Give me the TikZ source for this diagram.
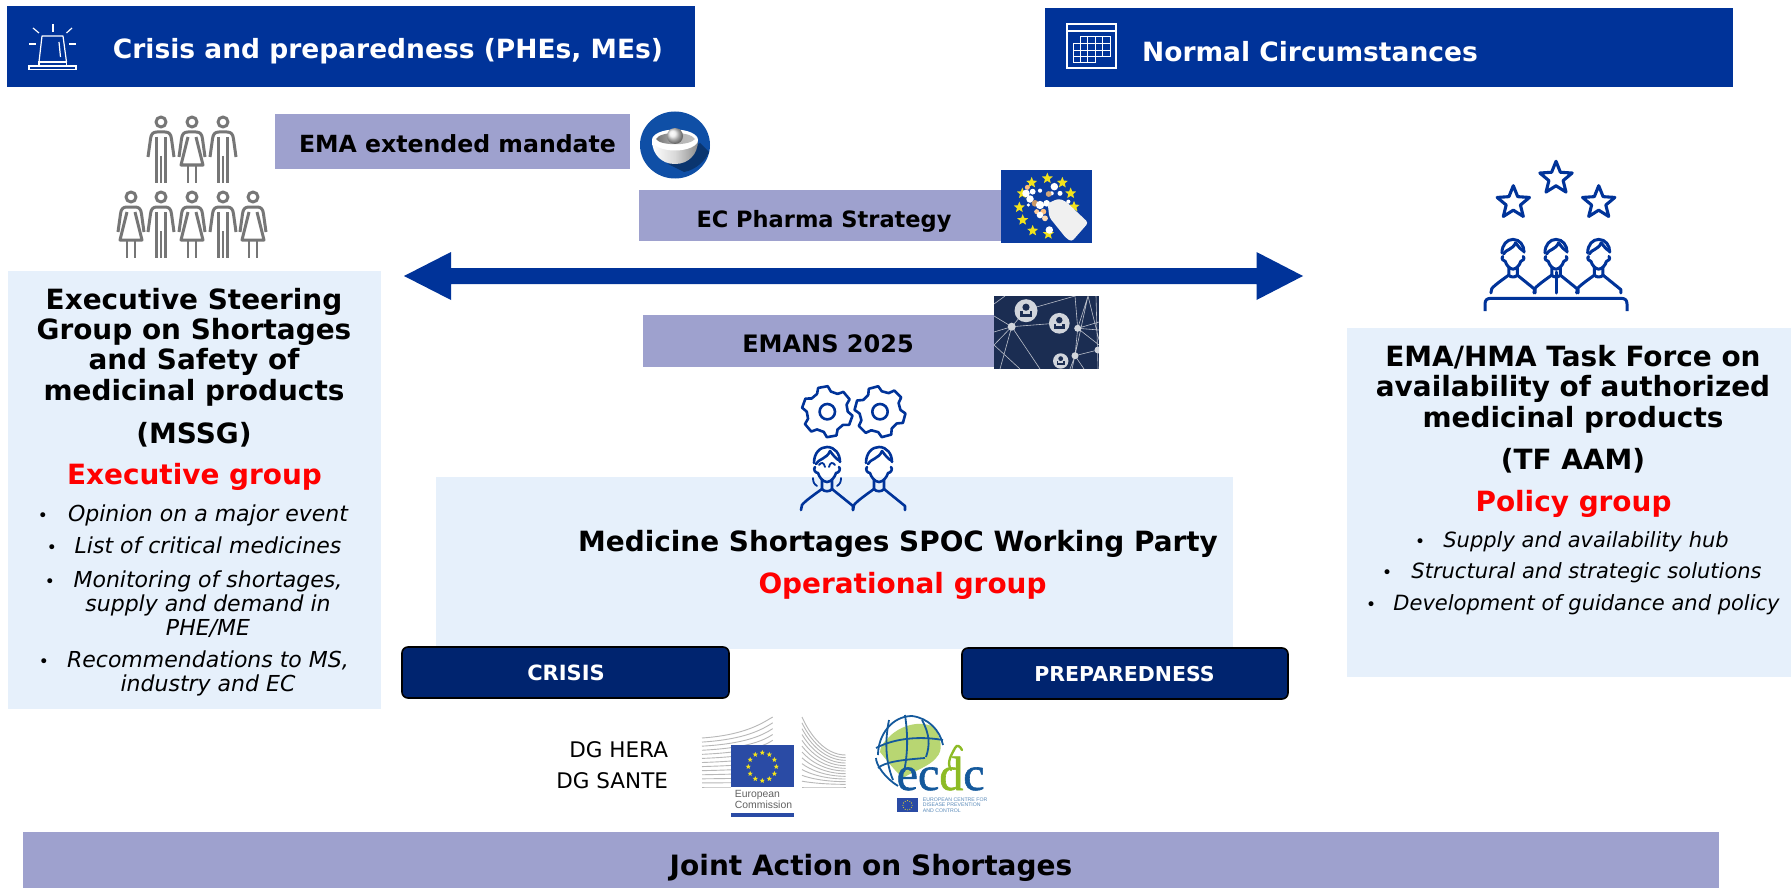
\documentclass[tikz,border=0pt]{standalone}
\usepackage{fontspec}
\setmainfont{DejaVu Sans}
\newfontfamily\serifecdc[FakeBold=1.2]{Liberation Serif}
\newfontfamily\libsans{Liberation Sans}
\definecolor{eublue}{HTML}{003399}
\definecolor{lav}{HTML}{9EA1CE}
\definecolor{pale}{HTML}{E6F0FB}
\definecolor{navy}{HTML}{00246F}
\definecolor{grayicon}{HTML}{767676}
\definecolor{logoblue}{HTML}{0F4FA6}
\definecolor{photoblue}{HTML}{0B3CA0}
\definecolor{nightblue}{HTML}{1B2D52}
\definecolor{starY}{HTML}{F2E21C}
\definecolor{ecblue}{HTML}{2A4BA5}
\definecolor{ecdcblue}{HTML}{14599C}
\definecolor{ecdcgreen}{HTML}{8DBB25}
\definecolor{ecdcleaf}{HTML}{B8D672}
\definecolor{redtxt}{HTML}{FF0000}
\tikzset{
  x=1pt,y=-1pt,
  tb/.style={anchor=base,inner sep=0pt,outer sep=0pt,align=center},
  title/.style={tb,font=\fontsize{27.9}{30.2}\selectfont\bfseries},
  redg/.style={tb,text=redtxt,font=\fontsize{27.9}{30}\selectfont\bfseries},
  itl/.style={tb,font=\fontsize{22}{24}\selectfont\itshape},
  itr/.style={tb,font=\fontsize{21}{24}\selectfont\itshape},
  dot/.style={tb,font=\fontsize{17}{18}\selectfont},
  head/.style={tb,text=white,font=\fontsize{26.5}{30}\selectfont\bfseries},
  lavt/.style={tb,font=\fontsize{#1}{26}\selectfont\bfseries},
  btnt/.style={tb,text=white,font=\fontsize{#1}{22}\selectfont\bfseries},
  gicon/.style={draw=grayicon,line width=2.6pt,line join=round,fill=none},
  bicon/.style={draw=eublue,line width=2.6pt,line join=round,line cap=round,fill=none},
  wicon/.style={draw=white,line width=1.2pt,fill=none},
  pics/gman/.style={code={
    \draw[gicon,line width=3pt] (0,0) circle [radius=5];
    \draw[gicon,line width=3pt] (-13,35) -- (-10.5,17) .. controls (-10,12) and (-8,10) .. (-4,10) -- (4,10) .. controls (8,10) and (10,12) .. (10.5,17) -- (13,35);
    \draw[gicon] (-4.6,15) -- (-4.6,61);
    \draw[gicon] (4.6,15) -- (4.6,61);
    \draw[gicon,line width=2pt] (0,34) -- (0,61);
  }},
  pics/gwoman/.style={code={
    \draw[gicon,line width=3pt] (0,0) circle [radius=5];
    \draw[gicon,line width=3pt] (-13,35) -- (-10.5,17) .. controls (-10,12) and (-8,10) .. (-4,10) -- (4,10) .. controls (8,10) and (10,12) .. (10.5,17) -- (13,35);
    \draw[gicon,line width=3pt] (-4,15) -- (-11,43) -- (11,43) -- (4,15);
    \draw[gicon] (-4,43) -- (-4,61);
    \draw[gicon] (4,43) -- (4,61);
  }},
  pics/worker/.style={code={
    \draw[bicon] (-13,0) .. controls (-13,-10) and (-7,-16) .. (0,-16) .. controls (8,-16) and (13,-9) .. (13,-1);
    \draw[bicon] (-11,1) .. controls (-9,-4) and (0,-4) .. (3,-12);
    \draw[bicon] (3,-12) .. controls (6,-8) and (9,-4) .. (13,-2);
    \draw[bicon] (-12,4) .. controls (-14,6) and (-12,10) .. (-9,10) .. controls (-8,14) and (-4,19) .. (0,19) .. controls (4,19) and (8,14) .. (9,10) .. controls (12,10) and (14,6) .. (12,4);
    \draw[bicon] (-5,17) -- (-5,26) .. controls (-3,29) and (3,29) .. (5,26) -- (5,17);
    \draw[bicon] (-26,47) -- (-25,42) .. controls (-22,38) and (-12,31) .. (-5,26);
    \draw[bicon] (26,47) -- (26,43) -- (5,26);
  }},
}
\newcommand\starP[4]{\path[shift={({#1},{#2})},#4] (-90:#3) -- (-54:{#3*0.44}) -- (-18:#3) -- (18:{#3*0.44}) -- (54:#3) -- (90:{#3*0.44}) -- (126:#3) -- (162:{#3*0.44}) -- (198:#3) -- (234:{#3*0.44}) -- cycle;}
\newcommand\gearP[3]{\begin{scope}[shift={(#1,#2)}]
  \foreach \a in {0,60,...,300}{
    \draw[bicon] ({\a+#3-20}:20.5) -- ({\a+#3-11}:25.5) -- ({\a+#3+11}:25.5) -- ({\a+#3+20}:20.5) -- ({\a+#3+40}:20.5);
  }
  \draw[bicon] (0,0) circle [radius=7.7];
\end{scope}}
\newcommand\pill[4]{\fill[#4] ({990+#1/3},{160+#2/3}) circle [radius={#3*1.25/3}];}
\newcommand\netp[3]{\begin{scope}[shift={(#1,#2)},scale=#3]
  \fill[white!80!nightblue] (0,0) circle [radius=11.5];
  \fill[nightblue] (0,-3.5) circle [radius=3.6];
  \fill[nightblue] (-6,0.5) rectangle (6,6.5);
  \fill[white!80!nightblue] (-3.5,0.5) rectangle (3.5,3.2);
\end{scope}}
\begin{document}
\begin{tikzpicture}
\useasboundingbox (0,0) rectangle (1791,888);
\fill[white] (0,0) rectangle (1791,888);

% ---- headers
\fill[eublue] (7,6) rectangle (695,87);
\fill[eublue] (1045,8) rectangle (1733,87);
\node[head] (hcrisis) at (388,59) {Crisis and preparedness (PHEs, MEs)};
\node[head] (hnormal) at (1310,62) {Normal Circumstances};
% siren
\draw[wicon] (29,66) rectangle (76,69.5);
\draw[wicon] (39,62) rectangle (66.5,66);
\draw[wicon,line join=round] (39,62) -- (42,36) -- (63,36) -- (66.5,62);
\draw[wicon] (59,42) -- (60.5,57);
\draw[wicon] (53,24) -- (53,32);
\draw[wicon] (33,28) -- (39,33);
\draw[wicon] (72,28) -- (66.5,33);
\draw[wicon] (29,44) -- (36,44);
\draw[wicon] (69,44) -- (76,44);
% calendar
\draw[wicon] (1067,24) rectangle (1116,68);
\draw[wicon] (1067,31) -- (1116,31);
\draw[wicon,line width=.9pt] (1080,36.7) -- (1110,36.7) -- (1110,56) -- (1095,56) -- (1095,62) -- (1073.3,62) -- (1073.3,43.3) -- (1080,43.3) -- cycle;
\foreach \xx in {1087.3,1095,1102.3}{\draw[wicon,line width=.9pt] (\xx,36.7) -- (\xx,56);}
\foreach \xx in {1080,1087.3}{\draw[wicon,line width=.9pt] (\xx,43.3) -- (\xx,62);}
\draw[wicon,line width=.9pt] (1073.3,50) -- (1110,50);
\draw[wicon,line width=.9pt] (1073.3,43.3) -- (1110,43.3);
\draw[wicon,line width=.9pt] (1073.3,56) -- (1095,56);

% ---- grey people
\pic at (161,122) {gman};
\pic at (192,122) {gwoman};
\pic at (223,122) {gman};
\pic at (131,197) {gwoman};
\pic at (161,197) {gman};
\pic at (192,197) {gwoman};
\pic at (223,197) {gman};
\pic at (253,197) {gwoman};

% ---- lavender boxes
\fill[lav] (275,114) rectangle (630,169);
\fill[lav] (639,190) rectangle (1001,241);
\fill[lav] (643,315) rectangle (994,367);
\node[lavt=23.6] (tema) at (457.5,152.7) {EMA extended mandate};
\node[lavt=22.5] (tec) at (824,227) {EC Pharma Strategy};
\node[lavt=24] (temans) at (828,352.7) {EMANS 2025};

% ---- EMA logo
\fill[logoblue] (675,145) ellipse [x radius=35,y radius=33.5];
\fill[black!60!logoblue,opacity=.55] (700,143) -- (709,152) .. controls (706,160) and (696,170) .. (684,172) -- (668,164) -- cycle;
\shade[left color=white,right color=black!45,middle color=white!85!black] (652,140) .. controls (652,155) and (662,164) .. (675,164) .. controls (688,164) and (698,155) .. (698,140) -- cycle;
\fill[white] (675,140) ellipse [x radius=23,y radius=10.5];
\shade[left color=black!55,right color=black!25,middle color=black!30] (656,139) .. controls (660,131) and (690,131) .. (695,139) .. controls (690,146) and (660,146) .. (656,139) -- cycle;
\shade[ball color=black!8] (675,136) circle [radius=8];

% ---- EC pharma photo
\fill[photoblue] (1001,170) rectangle (1092,243);
\foreach \sx/\sy in {172/55,125/68,217/68,97/100,242/100,88/142,252/140,98/180,128/212,175/222}{
  \starP{990+\sx/3}{160+\sy/3}{5.8}{fill=starY}
}
\pill{112}{82}{6}{orange!50!white}
\pill{193}{80}{9}{white}
\pill{128}{95}{7}{white}
\pill{108}{100}{9}{white}
\pill{150}{92}{5}{white}
\pill{120}{117}{9}{white}
\pill{115}{135}{4}{white}
\pill{210}{100}{6}{white}
\pill{185}{100}{5}{white}
\pill{176}{102}{7}{brown!70!white}
\pill{135}{130}{8}{brown!80!white}
\pill{150}{135}{10}{white}
\pill{170}{130}{8}{white}
\pill{140}{155}{6}{orange!40!white}
\pill{160}{155}{7}{orange!50!white}
\pill{150}{165}{8}{white}
\pill{165}{175}{7}{orange!30!white}
\pill{178}{210}{9}{white}
\pill{235}{125}{5}{white}
\fill[white!94!black,rounded corners=3pt] ({990+173/3},{160+130/3}) -- ({990+205/3},{160+116/3}) -- ({990+226/3},{160+123/3}) -- ({990+295/3},{160+188/3}) -- ({990+245/3},{160+245/3}) -- ({990+228/3},{160+234/3}) -- ({990+178/3},{160+172/3}) -- cycle;

% ---- network photo
\begin{scope}
\clip (994,296) rectangle (1099,369);
\fill[nightblue] (994,296) rectangle (1099,369);
\draw[white!70!nightblue,line width=.6pt]
  (1011.7,326.7) -- (994,316) (1011.7,326.7) -- (1000,369) (1011.7,326.7) -- (1040,369)
  (1011.7,326.7) -- (1026,310) (1011.7,326.7) -- (1059,323) (1011.7,326.7) -- (994,332) (1011.7,326.7) -- (994,345)
  (994,345) -- (1020,369) (1026,310) -- (1075,296) (1005,296) -- (994,304)
  (1077.7,328.3) -- (1075,296) (1077.7,328.3) -- (1088,296) (1077.7,328.3) -- (1075,355.7) (1077.7,328.3) -- (1099,322) (1077.7,328.3) -- (1099,345) (1077.7,328.3) -- (1099,330)
  (1075,355.7) -- (1098,350) (1075,355.7) -- (1070,369) (1075,355.7) -- (1084,369) (1088,296) -- (1072,369) (1088,296) -- (1099,340) (1096,296) -- (1098,369);
\fill[white!80!nightblue] (1011.7,326.7) circle [radius=4];
\fill[white!80!nightblue] (1077.7,328.3) circle [radius=3.5];
\fill[white!80!nightblue] (1075,355.7) circle [radius=3.5];
\fill[white!80!nightblue] (1098,350) circle [radius=3.5];
\netp{1026}{310.7}{1}
\netp{1059.3}{323.3}{.9}
\netp{1060.7}{361}{.67}
\end{scope}

% ---- main arrow
\fill[eublue] (404,276) -- (451,252) -- (451,268) -- (1256.5,268) -- (1256.5,252) -- (1303,276) -- (1256.5,300) -- (1256.5,284) -- (451,284) -- (451,300) -- cycle;

% ---- left panel
\fill[pale] (8,271) rectangle (381,709);
\node[title] (ltitle) at (194,400) {Executive Steering\\Group on Shortages\\and Safety of\\medicinal products};
\node[title] (lmssg) at (194,443) {(MSSG)};
\node[redg] (lexec) at (194.5,484) {Executive group};
\node[itl] (l1) at (208,521) {Opinion on a major event};
\node[itl] (l2) at (208,553) {List of critical medicines};
\node[itl] (l3) at (208,635) {Monitoring of shortages,\\supply and demand in\\PHE/ME};
\node[itl] (l4) at (208,691) {Recommendations to MS,\\industry and EC};
\node[dot] (ld1) at (43,521) {•};
\node[dot] (ld2) at (52,553) {•};
\node[dot] (ld3) at (50,587) {•};
\node[dot] (ld4) at (44,667) {•};

% ---- centre panel
\fill[pale] (436,477) rectangle (1233,649);
\node[tb,font=\fontsize{27.9}{30}\selectfont\bfseries] (ctitle) at (898,551) {Medicine Shortages SPOC Working Party};
\node[redg] (coper) at (902.5,593) {Operational group};
\gearP{827.3}{411.7}{20}
\gearP{880}{411.7}{15}
\pic at (827,463) {worker};
\pic at (879,463) {worker};
% glasses of the left figure
\draw[bicon,line width=1.8pt] (819,465) .. controls (821,462) and (824,462) .. (825,467);
\draw[bicon,line width=1.8pt] (829,467) .. controls (830,462) and (833,462) .. (835,465);
\draw[bicon,line width=1.8pt] (813,478) .. controls (813,482) and (814,484) .. (817,486);
\draw[bicon,line width=1.8pt] (841,478) .. controls (841,482) and (840,484) .. (837,486);

% ---- buttons
\fill[navy,draw=black,line width=1.6pt,rounded corners=6pt] (402,647) rectangle (729,698);
\fill[navy,draw=black,line width=1.6pt,rounded corners=6pt] (962,648) rectangle (1288,699);
\node[btnt=21] (bcrisis) at (566,680) {CRISIS};
\node[btnt=20.5] (bprep) at (1124.5,681.5) {PREPAREDNESS};

% ---- right panel
\fill[pale] (1347,328) rectangle (1791,677);
\node[title] (rtitle) at (1573,427) {EMA/HMA Task Force on\\availability of authorized\\medicinal products};
\node[title] (rtf) at (1573,469) {(TF AAM)};
\node[redg] (rpol) at (1573.5,511) {Policy group};
\node[itr] (r1) at (1586,547) {Supply and availability hub};
\node[itr] (r2) at (1586.5,578) {Structural and strategic solutions};
\node[itr] (r3) at (1586.5,610) {Development of guidance and policy};
\node[dot] (rd1) at (1420,547) {•};
\node[dot] (rd2) at (1387,578) {•};
\node[dot] (rd3) at (1371,610) {•};

% ---- right icon
\starP{1556}{178.3}{17}{draw=eublue,line width=3.1pt,line join=round}
\starP{1513.3}{202.7}{17}{draw=eublue,line width=3.1pt,line join=round}
\starP{1598.7}{202.7}{17}{draw=eublue,line width=3.1pt,line join=round}
\begin{scope}[bicon/.append style={line width=3pt}]
\pic[scale=.85] at (1513,253) {worker};
\pic[scale=.85] at (1556,253) {worker};
\pic[scale=.85] at (1598.7,253) {worker};
\draw[bicon] (1556,272) -- (1556,293);
\draw[bicon,line cap=butt] (1485,311) -- (1485,304) .. controls (1485,300) and (1487,298.3) .. (1491,298.3) -- (1621,298.3) .. controls (1625,298.3) and (1627,300) .. (1627,304) -- (1627,311);
\end{scope}

% ---- DG labels and logos
\node[tb,anchor=base east,font=\fontsize{21.5}{26}\selectfont] (dghera) at (668,757) {DG HERA};
\node[tb,anchor=base east,font=\fontsize{21.5}{26}\selectfont] (dgsante) at (668,788) {DG SANTE};

% EC logo
\foreach \t in {0,1,...,12}{
  \pgfmathsetmacro\yl{738+\t*49/12}
  \pgfmathsetmacro\yr{717+\t*70/12}
  \pgfmathsetmacro\ym{\yl-0.7*(\yl-\yr)*(1-\t/14)}
  \draw[black!28,line width=.9pt] (702,\yl) .. controls (745,{\yl-3*(1-\t/12)}) and (762,\ym) .. (772.7,\yr);
  \pgfmathsetmacro\yq{717+\t*70/12}
  \pgfmathsetmacro\ye{755+\t*32/12}
  \draw[black!28,line width=.9pt] (802,\yq) .. controls (810,{\yq+18*(1-\t/12)}) and (825,\ye) .. (845.7,\ye);
}
\fill[white] (731.3,787.3) rectangle (793.7,817);
\fill[ecblue] (731.3,745.3) rectangle (793.7,787.3);
\foreach \a in {0,30,...,330}{
  \starP{762.3+14*cos(\a)}{766.7+14*sin(\a)}{2.7}{fill=starY}
}
\node[anchor=base west,inner sep=0pt,text=black!62,align=left,font=\libsans\fontsize{10.4}{10.4}\selectfont] (ectxt) at (734.7,808) {European\\Commission};
\fill[ecblue] (731.3,813.3) rectangle (793.7,816.7);

% ECDC logo
\fill[ecdcleaf] (888,738) .. controls (900,725) and (920,720) .. (934,727) .. controls (941,738) and (944,750) .. (936,758) .. controls (930,766) and (912,772) .. (903,778) .. controls (896,772) and (888,762) .. (880,752) .. controls (880,746) and (884,742) .. (888,738) -- cycle;
\draw[ecdcblue,line width=1.8pt] (878,755) .. controls (878,735) and (892,716) .. (912,716);
\draw[ecdcblue,line width=1.8pt] (876,748) .. controls (895,738) and (920,736) .. (943,740);
\draw[ecdcblue,line width=1.8pt] (876,758) .. controls (876,765) and (885,778) .. (898,786);
\draw[ecdcblue,line width=1.8pt] (889,720) .. controls (885,740) and (885,760) .. (893,780);
\draw[ecdcblue,line width=1.8pt] (905,715) .. controls (908,735) and (908,752) .. (904,772);
\draw[ecdcblue,line width=1.8pt] (912,716) .. controls (928,718) and (940,730) .. (943,745);
\draw[ecdcblue,line width=1.8pt] (878,768) .. controls (885,762) and (900,760) .. (925,758);
\draw[ecdcblue,line width=1.8pt] (922,720) .. controls (930,735) and (930,745) .. (926,757);
\node[anchor=base west,inner sep=0pt,font=\serifecdc\fontsize{48}{50}\selectfont] (ecdc) at (896.5,790) {\textcolor{ecdcblue}{e}\textcolor{ecdcblue}{c}\textcolor{ecdcgreen}{d}\textcolor{ecdcblue}{c}};
\draw[ecdcgreen,line width=2.4pt,line cap=round] (951,770) .. controls (946,762) and (952,754) .. (955,748) .. controls (957,744) and (960,746) .. (962,750);
\fill[ecblue] (896.7,798.3) rectangle (918.3,812.3);
\foreach \a in {0,30,...,330}{
  \fill[starY] ({907.5+4.6*cos(\a)},{805.3+4.6*sin(\a)}) circle [radius=.55];
}
\node[anchor=base west,inner sep=0pt,text=ecdcblue!70!white,align=left,font=\libsans\fontsize{5.2}{5.1}\selectfont] (ecdctxt) at (922.7,812) {EUROPEAN CENTRE FOR\\DISEASE PREVENTION\\AND CONTROL};

% ---- bottom bar
\fill[lav] (23,832) rectangle (1719,888);
\node[tb,font=\fontsize{28}{30}\selectfont\bfseries] (joint) at (871,875) {Joint Action on Shortages};
\end{tikzpicture}
\end{document}
